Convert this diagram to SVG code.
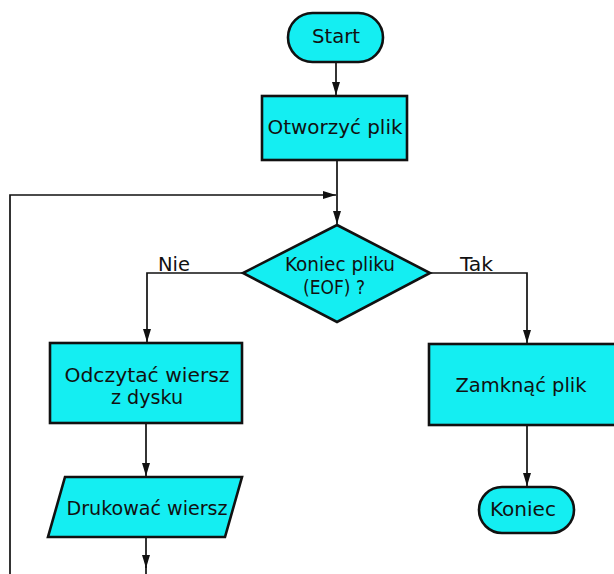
<svg xmlns="http://www.w3.org/2000/svg" width="614" height="574" viewBox="0 0 614 574">
<defs>
<style>
.shape{fill:#14eef2;stroke:#111;stroke-width:2.6}
.conn{fill:none;stroke:#111;stroke-width:1.7}
.t{font-family:"DejaVu Sans Condensed","DejaVu Sans","Liberation Sans",sans-serif;font-size:20px;fill:#111;text-anchor:middle}
.lbl{font-family:"DejaVu Sans Condensed","DejaVu Sans","Liberation Sans",sans-serif;font-size:19px;fill:#111}
</style>
<marker id="arr" viewBox="0 0 13 8" refX="13" refY="4" markerWidth="13" markerHeight="8" markerUnits="userSpaceOnUse" orient="auto">
<path d="M0,0 L13,4 L0,8 Z" fill="#111"/>
</marker>
</defs>
<rect width="614" height="574" fill="#fff"/>
<g id="connectors">
<path class="conn" d="M336,62 V95" marker-end="url(#arr)"/>
<path class="conn" d="M337,160 V224" marker-end="url(#arr)"/>
<path class="conn" d="M10,574 V195 H336" marker-end="url(#arr)"/>
<path class="conn" d="M243,273 H147 V342" marker-end="url(#arr)"/>
<path class="conn" d="M430,273 H527 V343" marker-end="url(#arr)"/>
<path class="conn" d="M146,423 V476" marker-end="url(#arr)"/>
<path class="conn" d="M146,537 V568" marker-end="url(#arr)"/>
<path class="conn" d="M146,566 V574"/>
<path class="conn" d="M527,425 V486" marker-end="url(#arr)"/>
<text class="lbl" x="158" y="271" textLength="32" lengthAdjust="spacingAndGlyphs">Nie</text>
<text class="lbl" x="460" y="271" textLength="33" lengthAdjust="spacingAndGlyphs">Tak</text>
</g>
<g id="start">
<rect class="shape" x="288" y="13" width="95" height="49" rx="24.5"/>
<text class="t" x="336" y="43" textLength="48" lengthAdjust="spacingAndGlyphs">Start</text>
</g>
<g id="otworzyc">
<rect class="shape" x="262" y="96" width="145" height="64"/>
<text class="t" x="335" y="134" textLength="135" lengthAdjust="spacingAndGlyphs">Otworzyć plik</text>
</g>
<g id="eof">
<polygon class="shape" points="337,225 430,273 337,322 243,273"/>
<text class="t" x="340" y="271" textLength="110" lengthAdjust="spacingAndGlyphs">Koniec pliku</text>
<text class="t" x="334" y="294" textLength="62" lengthAdjust="spacingAndGlyphs">(EOF) ?</text>
</g>
<g id="odczytac">
<rect class="shape" x="50" y="343" width="192" height="80"/>
<text class="t" x="147" y="382" textLength="165" lengthAdjust="spacingAndGlyphs">Odczytać wiersz</text>
<text class="t" x="147" y="404" textLength="72" lengthAdjust="spacingAndGlyphs">z dysku</text>
</g>
<g id="drukowac">
<polygon class="shape" points="65,477 242,477 225,537 48,537"/>
<text class="t" x="147" y="515" textLength="161" lengthAdjust="spacingAndGlyphs">Drukować wiersz</text>
</g>
<g id="zamknac">
<rect class="shape" x="429" y="344" width="190" height="81"/>
<text class="t" x="521" y="392" textLength="131" lengthAdjust="spacingAndGlyphs">Zamknąć plik</text>
</g>
<g id="koniec">
<rect class="shape" x="479" y="487" width="95" height="46" rx="23"/>
<text class="t" x="523" y="516" textLength="66" lengthAdjust="spacingAndGlyphs">Koniec</text>
</g>
</svg>
